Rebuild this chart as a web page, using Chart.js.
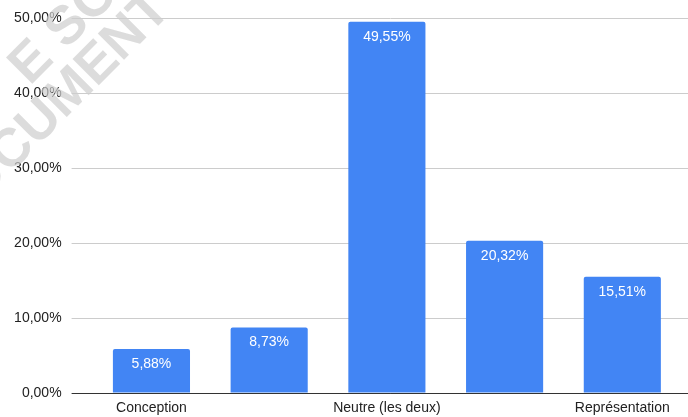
<!DOCTYPE html>
<html><head><meta charset="utf-8">
<script src="https://cdn.jsdelivr.net/npm/chart.js@4"></script>
<style>html,body{margin:0;padding:0;background:#fff}#w{width:688px;height:417px;position:relative}</style>
</head><body><div id="w"><canvas id="c" width="688" height="417"></canvas></div>
<script>
const categories = ["Conception", "", "Neutre (les deux)", "", "Représentation"];
const values = [5.88, 8.73, 49.55, 20.32, 15.51];
const yTicks = [0, 10, 20, 30, 40, 50];
const watermarkLines = ["E SOUMIS", "DOCUMENT SOUMIS"];

const fmt = v => v.toFixed(2).replace('.', ',') + '%';
const FONT = '"Liberation Sans", Arial, sans-serif';

const barLabels = {
  id: 'barLabels',
  afterDatasetsDraw(chart) {
    const ctx = chart.ctx;
    const meta = chart.getDatasetMeta(0);
    ctx.save();
    ctx.fillStyle = '#ffffff';
    ctx.font = '14px ' + FONT;
    ctx.textAlign = 'center';
    ctx.textBaseline = 'top';
    meta.data.forEach((bar, i) => {
      ctx.fillText(fmt(values[i]), bar.x, bar.y + 8);
    });
    ctx.restore();
  }
};

const watermark = {
  id: 'watermark',
  beforeDatasetsDraw(chart) {
    const ctx = chart.ctx;
    ctx.save();
    ctx.fillStyle = 'rgba(205,205,205,0.7)';
    ctx.font = 'bold 54px ' + FONT;
    ctx.textBaseline = 'alphabetic';
    ctx.textAlign = 'left';
    ctx.rotate(-Math.PI / 4);
    ctx.fillText(watermarkLines[0], -40, 82);
    ctx.fillText(watermarkLines[1], -198, 130);
    ctx.restore();
  }
};

new Chart(document.getElementById('c'), {
  type: 'bar',
  data: {
    datasets: [{
      data: values.map((v, i) => ({ x: i, y: v })),
      backgroundColor: '#4285f4',
      borderRadius: 2,
      borderSkipped: 'bottom',
      categoryPercentage: 1,
      barPercentage: 0.655
    }]
  },
  options: {
    responsive: false,
    animation: false,
    events: [],
    layout: { padding: { top: 10, right: 0, left: 0, bottom: 0 } },
    plugins: { legend: { display: false }, tooltip: { enabled: false } },
    scales: {
      x: {
        type: 'linear',
        offset: false,
        min: -0.5,
        max: 4.558,
        afterBuildTicks: s => { s.ticks = categories.map((c, i) => ({ value: i })); },
        afterFit: s => { s.height = 24; },
        grid: { display: false, drawTicks: false },
        border: { color: '#333333', width: 1 },
        ticks: {
          color: '#222222',
          font: { family: FONT, size: 14 },
          padding: 7,
          autoSkip: false,
          maxRotation: 0,
          callback: v => categories[v] || ''
        }
      },
      y: {
        min: 0, max: 50,
        afterBuildTicks: s => { s.ticks = yTicks.map(v => ({ value: v })); },
        afterFit: s => { s.width = 92.6; },
        grid: {
          color: ctx => ctx.tick && ctx.tick.value === 0 ? '#333333' : '#cccccc',
          tickLength: 21,
          tickColor: ctx => ctx.tick && ctx.tick.value === 0 ? '#333333' : '#cccccc'
        },
        border: { display: false },
        ticks: {
          color: '#222222',
          font: { family: FONT, size: 14 },
          padding: 10,
          callback: v => fmt(v)
        }
      }
    }
  },
  plugins: [watermark, barLabels]
});
</script></body></html>
